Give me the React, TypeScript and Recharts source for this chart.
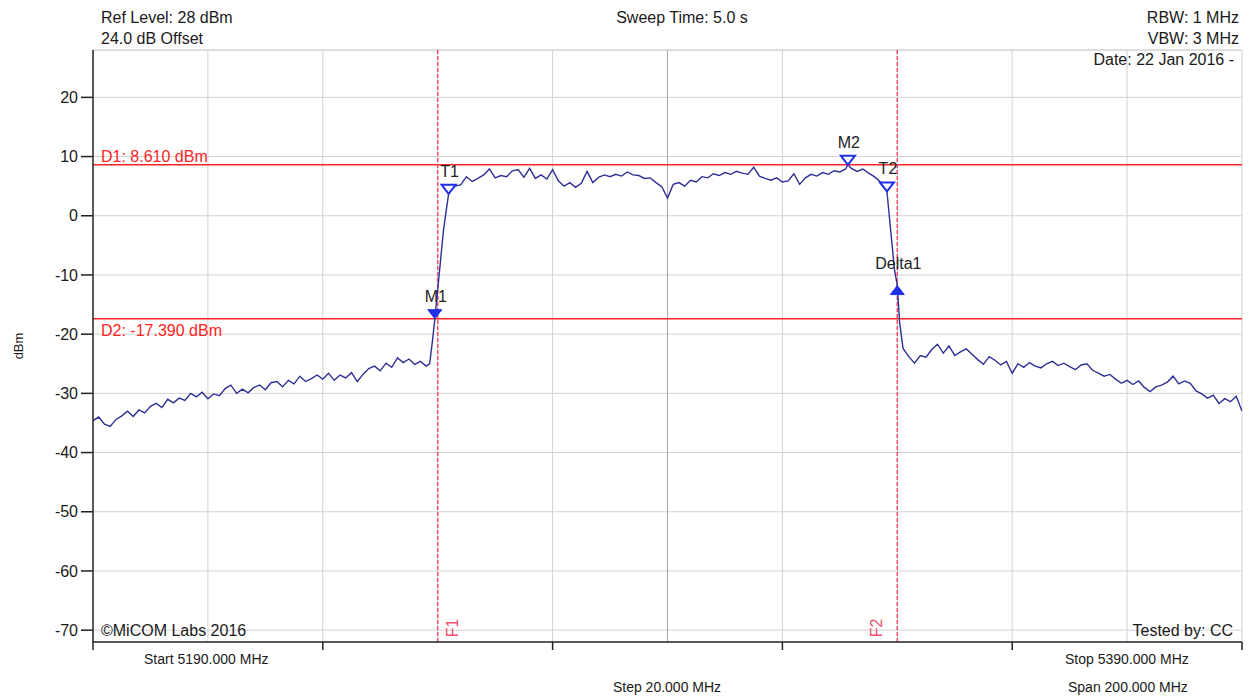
import React from 'react';
import { ComposedChart, Line, Scatter, XAxis, YAxis, ReferenceLine } from 'recharts';

// ---- data ----
const yTicks = [-70, -60, -50, -40, -30, -20, -10, 0, 10, 20];
const xTicks = [5190, 5230, 5270, 5310, 5350, 5390];
const gridFreqs = [5210, 5230, 5250, 5270, 5290, 5310, 5330, 5350, 5370];
const gridLevels = [-70, -60, -50, -40, -30, -20, -10, 0, 10, 20];

const displayLineNames = ['D1', 'D2'];
const displayLineLevels = [8.61, -17.39];
const displayLineTexts = ['D1: 8.610 dBm', 'D2: -17.390 dBm'];

const freqLineNames = ['F1', 'F2'];
const freqLineFreqs = [5250, 5330];

const markerNames = ['M1', 'T1', 'M2', 'T2', 'Delta1'];
const markerFreqs = [5249.5, 5251.9, 5321.4, 5328.2, 5330.0];
const markerLevels = [-17.39, 3.7, 8.61, 4.1, -11.8];

// trace: [frequency MHz, level dBm]
const trace: [number, number][] = [
  [5190, -34.6], [5191, -34.0], [5192, -35.2], [5193, -35.6], [5194, -34.4], [5195, -33.8], [5196, -33.0], [5197, -33.9], [5198, -32.8], [5199, -33.3],
  [5200, -32.2], [5201, -31.7], [5202, -32.4], [5203, -31.0], [5204, -31.6], [5205, -30.8], [5206, -31.2], [5207, -30.0], [5208, -30.6], [5209, -29.8],
  [5210, -30.9], [5211, -30.1], [5212, -30.4], [5213, -29.2], [5214, -28.6], [5215, -30.0], [5216, -29.3], [5217, -29.9], [5218, -29.0], [5219, -28.6],
  [5220, -29.4], [5221, -28.2], [5222, -28.0], [5223, -28.9], [5224, -27.8], [5225, -28.4], [5226, -27.1], [5227, -28.0], [5228, -27.5], [5229, -26.9],
  [5230, -27.6], [5231, -26.6], [5232, -27.8], [5233, -26.9], [5234, -27.4], [5235, -26.5], [5236, -28.0], [5237, -26.8], [5238, -25.8], [5239, -25.4],
  [5240, -26.2], [5241, -24.9], [5242, -25.6], [5243, -24.0], [5244, -24.8], [5245, -24.2], [5246, -25.1], [5247, -24.6], [5248, -25.4], [5248.6, -25.0],
  [5249.1, -21.0], [5249.5, -17.39], [5250, -12.5], [5250.5, -7.5], [5251, -2.5], [5251.5, 1.0], [5251.9, 3.7], [5252.4, 4.6], [5253, 5.0], [5254, 5.2],
  [5255, 6.6], [5256, 5.8], [5257, 6.3], [5258, 6.9], [5259, 7.9], [5260, 6.4], [5261, 6.8], [5262, 6.6], [5263, 7.6], [5264, 7.8],
  [5265, 6.5], [5266, 8.0], [5267, 6.3], [5268, 6.9], [5269, 6.2], [5270, 7.8], [5271, 5.9], [5272, 5.0], [5273, 5.6], [5274, 4.8],
  [5275, 5.5], [5276, 7.5], [5277, 5.6], [5278, 6.5], [5279, 6.9], [5280, 6.6], [5281, 7.0], [5282, 6.7], [5283, 7.4], [5284, 6.9],
  [5285, 6.8], [5286, 6.3], [5287, 6.4], [5288, 5.6], [5289, 4.9], [5290, 3.0], [5291, 5.3], [5292, 5.6], [5293, 5.0], [5294, 6.0],
  [5295, 5.7], [5296, 6.6], [5297, 6.4], [5298, 7.1], [5299, 6.8], [5300, 7.3], [5301, 7.0], [5302, 7.5], [5303, 7.2], [5304, 7.0],
  [5305, 8.2], [5306, 6.7], [5307, 6.3], [5308, 6.0], [5309, 6.4], [5310, 5.7], [5311, 5.9], [5312, 7.1], [5313, 5.3], [5314, 6.4],
  [5315, 7.0], [5316, 6.7], [5317, 7.3], [5318, 7.0], [5319, 7.6], [5320, 7.4], [5321, 7.9], [5321.4, 8.61], [5322, 8.0], [5323, 7.5],
  [5324, 7.9], [5325, 7.2], [5326, 6.6], [5327, 5.8], [5328.2, 4.1], [5328.6, 0.0], [5329, -4.0], [5329.5, -9.0], [5330, -11.8], [5330.4, -18.0],
  [5331, -22.4], [5332, -23.8], [5333, -24.9], [5334, -23.6], [5335, -23.9], [5336, -22.6], [5337, -21.7], [5338, -23.2], [5339, -22.0], [5340, -23.6],
  [5341, -23.0], [5342, -22.5], [5343, -23.4], [5344, -24.3], [5345, -25.1], [5346, -23.8], [5347, -24.4], [5348, -25.2], [5349, -24.6], [5350, -26.6],
  [5351, -25.0], [5352, -25.6], [5353, -24.8], [5354, -25.4], [5355, -25.7], [5356, -25.0], [5357, -24.6], [5358, -25.3], [5359, -24.9], [5360, -25.5],
  [5361, -26.0], [5362, -25.2], [5363, -25.0], [5364, -26.1], [5365, -26.6], [5366, -27.1], [5367, -26.8], [5368, -27.6], [5369, -28.3], [5370, -27.8],
  [5371, -28.5], [5372, -27.9], [5373, -29.0], [5374, -29.7], [5375, -28.9], [5376, -28.6], [5377, -28.1], [5378, -27.1], [5379, -28.4], [5380, -27.9],
  [5381, -28.3], [5382, -29.6], [5383, -30.1], [5384, -30.8], [5385, -30.3], [5386, -31.7], [5387, -30.9], [5388, -31.4], [5389, -30.5], [5390, -33.0],
];

// ---- styling ----
const FONT = '"Liberation Sans", Arial, sans-serif';
const TRACE_COLOR = '#2f2f96';
const MARKER_COLOR = '#1f2fe6';
const D_COLOR = '#ff2424';
const F_COLOR = '#f0506e';
const GRID_COLOR = '#d2d2d2';
const markerFilled: Record<string, boolean> = { M1: true, T1: false, M2: false, T2: false, Delta1: true };
const markerUp: Record<string, boolean> = { Delta1: true };

const traceData = trace.map(([f, v]) => ({ f, v }));
const markerData = markerNames.map((name, i) => ({ name, f: markerFreqs[i], v: markerLevels[i] }));

const MarkerShape = (props: any) => {
  const { cx, cy, payload } = props;
  if (cx == null || cy == null) return <g />;
  const name = payload.name as string;
  const up = !!markerUp[name];
  const filled = !!markerFilled[name];
  const w = 7;
  const h = 9;
  const pts = up
    ? `${cx - w},${cy + h} ${cx + w},${cy + h} ${cx},${cy}`
    : `${cx - w},${cy - h} ${cx + w},${cy - h} ${cx},${cy}`;
  return (
    <g>
      <polygon
        points={pts}
        fill={filled ? MARKER_COLOR : '#ffffff'}
        stroke={MARKER_COLOR}
        strokeWidth={filled ? 1 : 2}
        strokeLinejoin="miter"
      />
      <text x={cx + 1} y={cy - 17} textAnchor="middle" fontSize={16} fontFamily={FONT} fill="#222">
        {name}
      </text>
    </g>
  );
};

const Txt = ({ x, y, anchor = 'start', size = 16, color = '#1a1a1a', children }: any) => {
  const tx = anchor === 'middle' ? '-50%' : anchor === 'end' ? '-100%' : '0';
  return (
    <div
      style={{
        position: 'absolute',
        left: x,
        top: y,
        transform: `translate(${tx}, -50%)`,
        fontSize: size,
        lineHeight: 1,
        color,
        whiteSpace: 'nowrap',
        fontFamily: FONT,
      }}
    >
      {children}
    </div>
  );
};

export default function App() {
  return (
    <div style={{ position: 'relative', width: 1250, height: 698, background: '#fff', fontFamily: FONT }}>
      <style>{`body{margin:0;background:#fff}`}</style>
      <ComposedChart
        width={1250}
        height={698}
        margin={{ top: 50, right: 8, bottom: 26, left: 33 }}
      >
        <XAxis
          dataKey="f"
          type="number"
          domain={[5190, 5390]}
          ticks={xTicks}
          tickFormatter={() => ''}
          tickSize={8}
          height={30}
          allowDataOverflow
          axisLine={{ stroke: '#222', strokeWidth: 1.5 }}
          tickLine={{ stroke: '#222', strokeWidth: 1.5 }}
        />
        <YAxis
          type="number"
          domain={[-72, 28]}
          ticks={yTicks}
          interval={0}
          width={60}
          tickSize={12}
          tickMargin={3}
          allowDataOverflow
          axisLine={{ stroke: '#222', strokeWidth: 1.5 }}
          tickLine={{ stroke: '#222', strokeWidth: 1.5 }}
          tick={{ fill: '#1a1a1a', fontSize: 16, fontFamily: FONT }}
        />
        {gridLevels.map((lv) => (
          <ReferenceLine key={`gy${lv}`} y={lv} stroke={GRID_COLOR} strokeWidth={1} />
        ))}
        <ReferenceLine y={28} stroke={GRID_COLOR} strokeWidth={1.5} />
        {gridFreqs.map((fq) => (
          <ReferenceLine key={`gx${fq}`} x={fq} stroke={fq === 5290 ? '#a8a8a8' : GRID_COLOR} strokeWidth={1} />
        ))}
        <ReferenceLine x={5390} stroke={GRID_COLOR} strokeWidth={1} />
        {displayLineNames.map((nm, i) => (
          <ReferenceLine
            key={nm}
            y={displayLineLevels[i]}
            stroke={D_COLOR}
            strokeWidth={1.5}
            label={(p: any) => {
              const vb = p.viewBox || {};
              const above = i === 0;
              return (
                <text
                  x={(vb.x ?? 0) + 8}
                  y={(vb.y ?? 0) + (above ? -3 : 17)}
                  fontSize={16}
                  fontFamily={FONT}
                  fill={D_COLOR}
                >
                  {displayLineTexts[i]}
                </text>
              );
            }}
          />
        ))}
        {freqLineNames.map((nm, i) => (
          <ReferenceLine
            key={nm}
            x={freqLineFreqs[i]}
            stroke={F_COLOR}
            strokeWidth={1.5}
            strokeDasharray="4 2"
            label={(p: any) => {
              const vb = p.viewBox || {};
              const lx = (vb.x ?? 0) + (i === 0 ? 15 : -21);
              const ly = (vb.y ?? 0) + (vb.height ?? 0) - 14;
              return (
                <text
                  x={lx}
                  y={ly}
                  transform={`rotate(-90 ${lx} ${ly})`}
                  textAnchor="middle"
                  dominantBaseline="central"
                  fontSize={16}
                  fontFamily={FONT}
                  fill={F_COLOR}
                >
                  {nm}
                </text>
              );
            }}
          />
        ))}
        <Line
          data={traceData}
          dataKey="v"
          type="linear"
          stroke={TRACE_COLOR}
          strokeWidth={1.4}
          dot={false}
          activeDot={false}
          isAnimationActive={false}
        />
        <Scatter data={markerData} dataKey="v" shape={MarkerShape} isAnimationActive={false} />
      </ComposedChart>

      <Txt x={101} y={18}>Ref Level: 28 dBm</Txt>
      <Txt x={101} y={39}>24.0 dB Offset</Txt>
      <Txt x={682} y={18} anchor="middle">Sweep Time: 5.0 s</Txt>
      <Txt x={1239} y={18} anchor="end">RBW: 1 MHz</Txt>
      <Txt x={1239} y={39} anchor="end">VBW: 3 MHz</Txt>
      <Txt x={1234} y={60} anchor="end">Date: 22 Jan 2016 -</Txt>
      <Txt x={101} y={631}>©MiCOM Labs 2016</Txt>
      <Txt x={1233} y={631} anchor="end">Tested by: CC</Txt>
      <Txt x={144} y={659} size={14}>Start 5190.000 MHz</Txt>
      <Txt x={1065} y={659} size={14}>Stop 5390.000 MHz</Txt>
      <Txt x={667} y={687} size={14} anchor="middle">Step 20.000 MHz</Txt>
      <Txt x={1068} y={687} size={14}>Span 200.000 MHz</Txt>
      <div
        style={{
          position: 'absolute',
          left: 18,
          top: 346,
          transform: 'translate(-50%, -50%) rotate(-90deg)',
          fontSize: 13,
          lineHeight: 1,
          color: '#1a1a1a',
          whiteSpace: 'nowrap',
          fontFamily: FONT,
        }}
      >
        dBm
      </div>
    </div>
  );
}
